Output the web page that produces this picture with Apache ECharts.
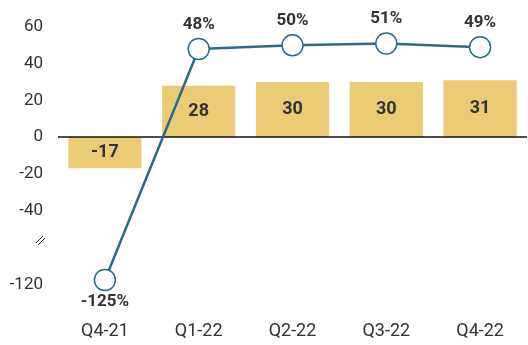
<!DOCTYPE html>
<html lang="en">
<head>
    <meta charset="UTF-8">
    <title>Quarterly bars with margin line</title>
    <script src="https://cdn.jsdelivr.net/npm/echarts@6/dist/echarts.min.js"></script>
    <style>
        *{margin:0;padding:0;}
        html,body{width:100%;height:100%;background:#fff;}
        #chart{width:528px;height:345px;}
    </style>
</head>
<body>
    <div id="chart"></div>
    <script>
        var quarters=['Q4-21','Q1-22','Q2-22','Q3-22','Q4-22'];
        var barValues=[-17,28,30,30,31];//yellow bars
        var lineValues=[-125,48,50,51,49];//line, shown as %
        var yTickLabels=[60,40,20,0,-20,-40,-120];//labels kept on the broken axis

        var barColor='#ECCB76';
        var lineColor='#2A6A8A';
        var textColor='#333';
        var font='Roboto';

        var lineData=lineValues.map(function(v){
            if(v<0){
                return {value:v,label:{position:'bottom',distance:2}};
            }
            return v;
        });

        var myCharts=echarts.init(document.getElementById('chart'));
        var option={
            animation:false,
            grid:{left:58,right:1,top:27,bottom:37.5},
            xAxis:{
                type:'category',
                data:quarters,
                axisLine:{show:false},
                axisTick:{show:false},
                axisLabel:{margin:15,fontSize:18,color:textColor,fontFamily:font}
            },
            yAxis:{
                type:'value',
                min:-140,
                max:60,
                interval:20,
                breaks:[{start:-120,end:-40,gap:33}],
                breakArea:{show:false},
                splitLine:{show:false},
                axisLine:{show:false},
                axisTick:{show:false},
                axisLabel:{
                    margin:15,
                    fontSize:17,
                    color:textColor,
                    fontFamily:font,
                    hideOverlap:false,
                    formatter:function(v){
                        if(yTickLabels.indexOf(v)<0) return '';
                        if(v===-120) return '{low|'+v+'}';
                        return v;
                    },
                    rich:{low:{fontSize:17,color:textColor,fontFamily:font,padding:[28,0,0,0]}}
                }
            },
            graphic:[
                {type:'line',shape:{x1:36,y1:243,x2:43,y2:236},style:{stroke:'#333',lineWidth:1}},
                {type:'line',shape:{x1:38,y1:245,x2:45,y2:238},style:{stroke:'#333',lineWidth:1}}
            ],
            series:[
                {
                    type:'bar',
                    data:barValues,
                    barWidth:'78%',
                    itemStyle:{color:barColor},
                    label:{show:true,position:'inside',fontSize:18,fontWeight:'bold',color:textColor,fontFamily:font},
                    markLine:{
                        silent:true,
                        symbol:'none',
                        label:{show:false},
                        lineStyle:{color:'#111',width:1.5,type:'solid'},
                        data:[{yAxis:0}]
                    }
                },
                {
                    type:'line',
                    data:lineData,
                    z:5,
                    symbol:'circle',
                    symbolSize:21,
                    lineStyle:{color:lineColor,width:2.5},
                    itemStyle:{color:'#fff',borderColor:lineColor,borderWidth:1.5},
                    label:{show:true,position:'top',distance:5,formatter:'{c}%',fontSize:17,fontWeight:'bold',color:textColor,fontFamily:font}
                }
            ]
        };
        myCharts.setOption(option);
        window.onresize=myCharts.resize;
    </script>
</body>
</html>
